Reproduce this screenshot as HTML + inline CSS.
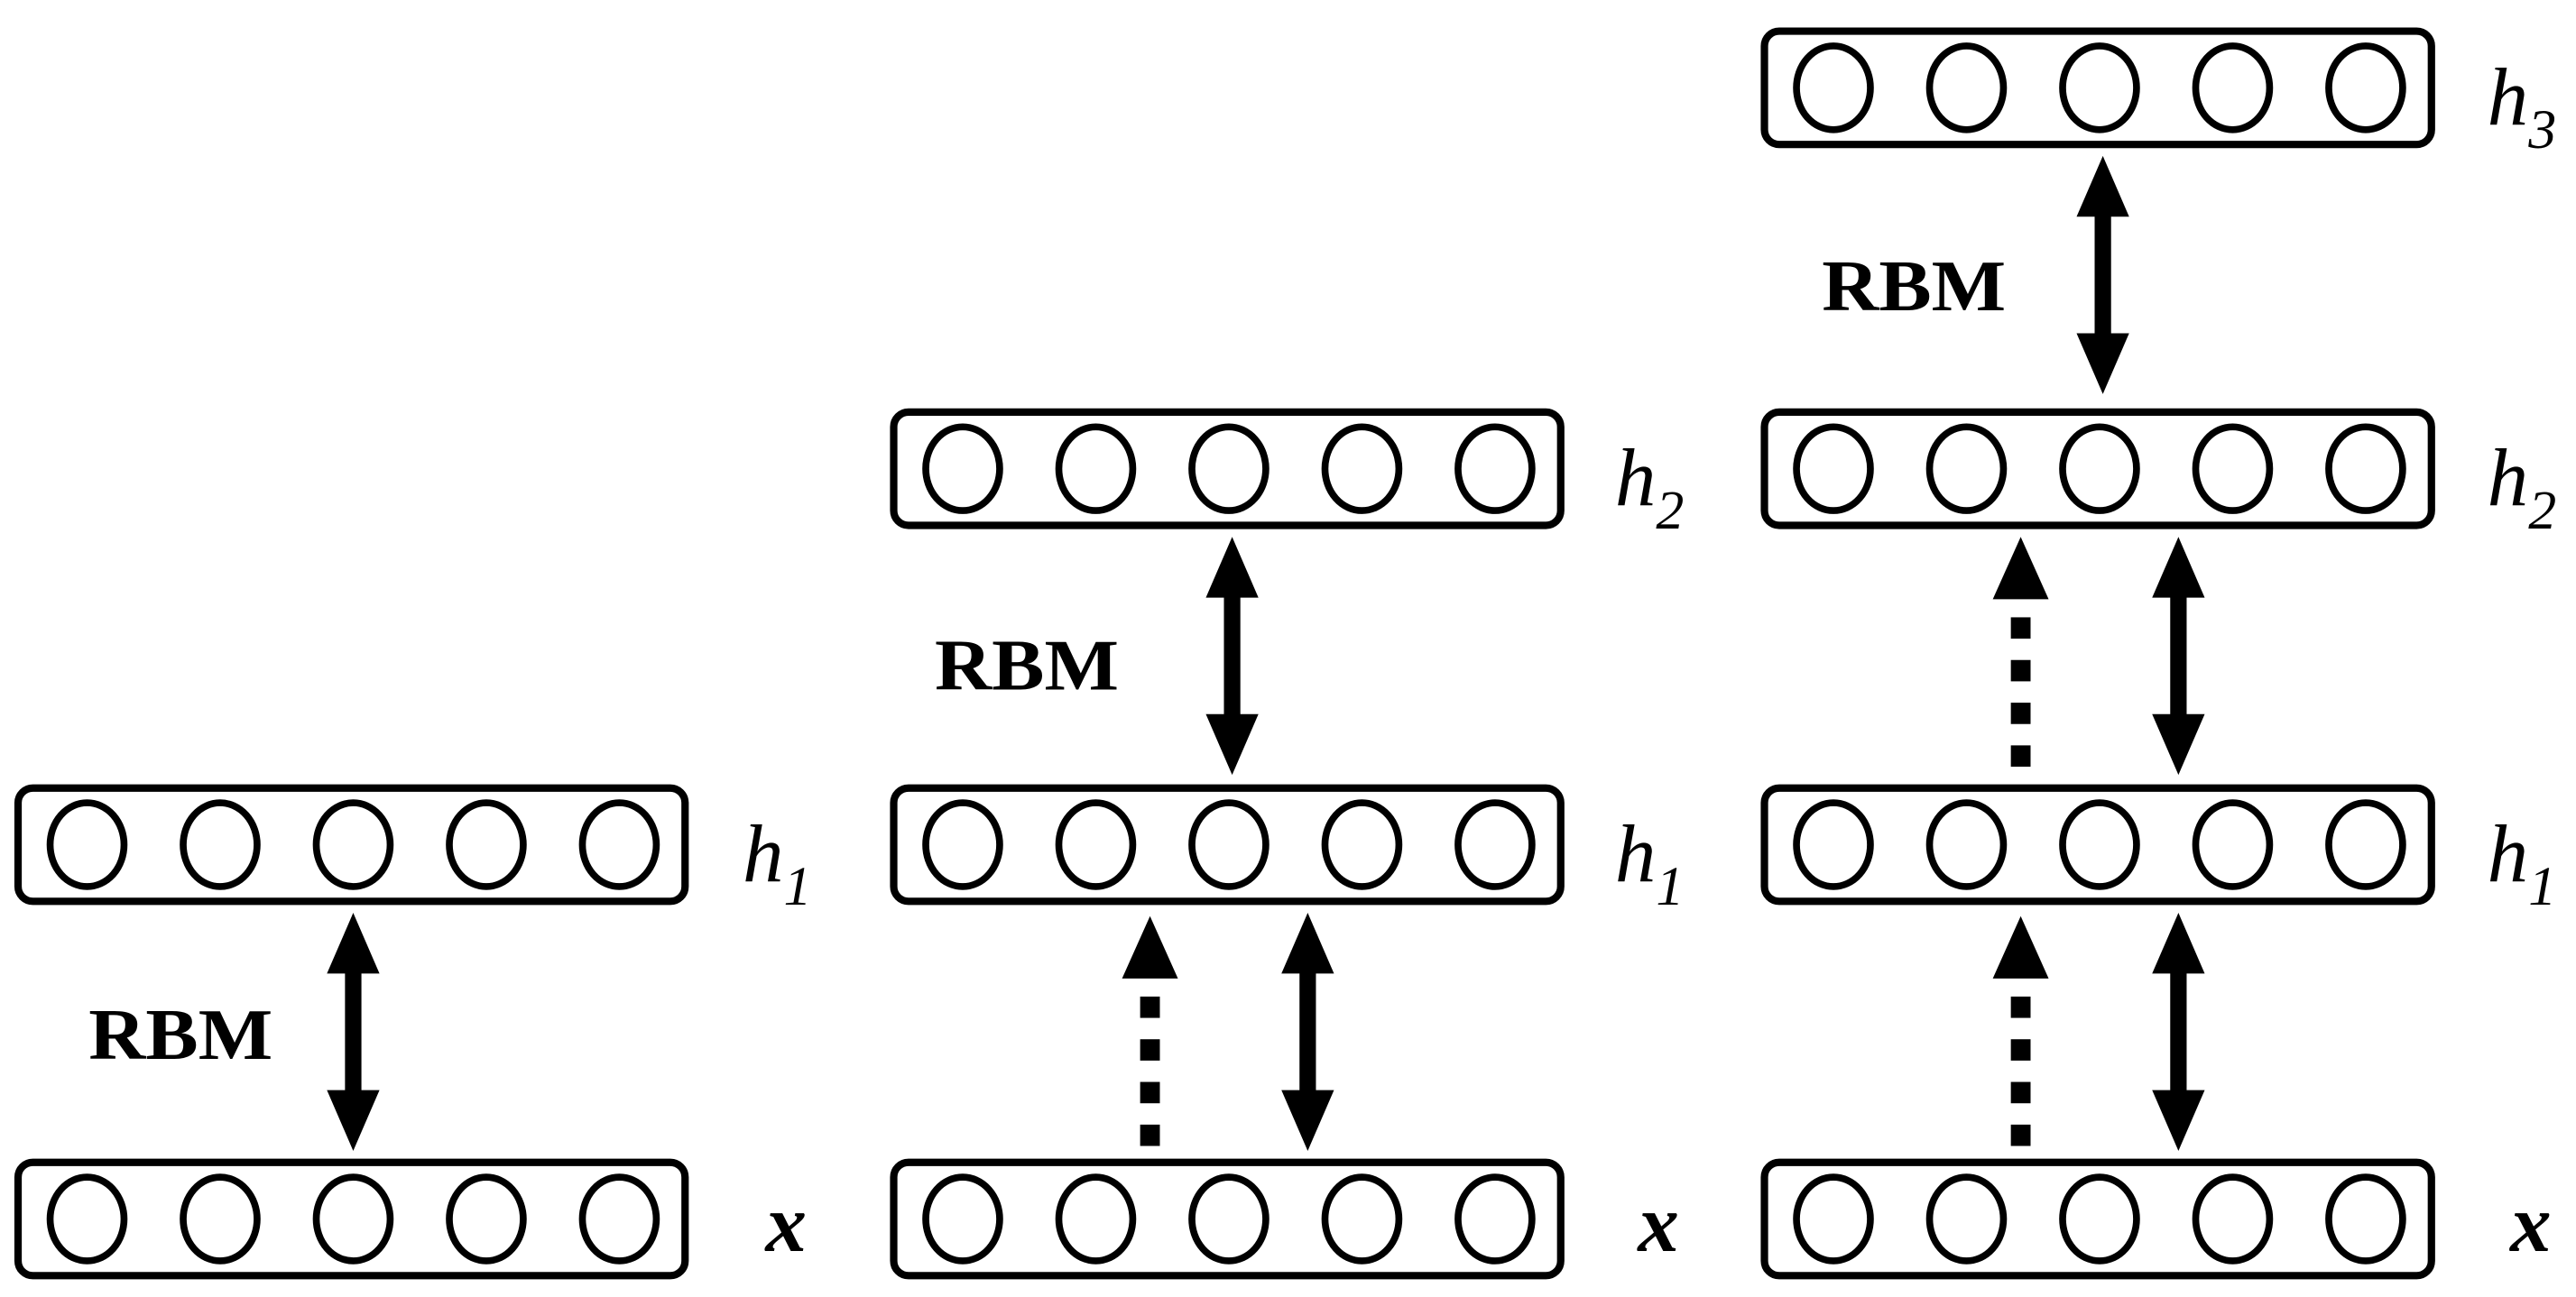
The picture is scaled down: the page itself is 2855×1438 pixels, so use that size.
<!DOCTYPE html>
<html><head><meta charset="utf-8"><style>
html,body{margin:0;padding:0;background:#fff;}
svg{display:block;}
</style></head><body>
<svg width="2855" height="1438" viewBox="0 0 1568 790" preserveAspectRatio="none" xmlns="http://www.w3.org/2000/svg" font-family="'Liberation Serif','Times New Roman',serif">
<defs>
<g id="layer">
  <rect x="2" y="2" width="406" height="69" rx="9" ry="9" fill="#fff" stroke="#000" stroke-width="4.5"/>
  <g fill="none" stroke="#000" stroke-width="4.2">
    <ellipse cx="44" cy="36.5" rx="22.5" ry="25.5"/>
    <ellipse cx="125" cy="36.5" rx="22.5" ry="25.5"/>
    <ellipse cx="206" cy="36.5" rx="22.5" ry="25.5"/>
    <ellipse cx="287" cy="36.5" rx="22.5" ry="25.5"/>
    <ellipse cx="368" cy="36.5" rx="22.5" ry="25.5"/>
  </g>
</g>
<g id="dbl">
  <polygon points="0,0 16,37 5,37 5,108 16,108 0,145 -16,108 -5,108 -5,37 -16,37" fill="#000"/>
</g>
<g id="dot">
  <polygon points="0,0 17,38 -17,38" fill="#000"/>
  <rect x="-6" y="49" width="12" height="13" fill="#000"/>
  <rect x="-6" y="75" width="12" height="13" fill="#000"/>
  <rect x="-6" y="101" width="12" height="13" fill="#000"/>
  <rect x="-6" y="127" width="12" height="13" fill="#000"/>
</g>
</defs>

<g font-family="'Liberation Serif','Times New Roman',serif">
<!-- Column 1 -->
<use href="#layer" x="9" y="478"/>
<use href="#layer" x="9" y="706"/>
<use href="#dbl" x="215" y="556"/>
<text x="54" y="645" font-size="44" font-weight="bold" textLength="112" lengthAdjust="spacingAndGlyphs">RBM</text>
<text x="452" y="537" font-size="50" font-style="italic">h<tspan font-size="34" dy="14">1</tspan></text>
<text x="466" y="762" font-size="50" font-style="italic" font-weight="bold">x</text>

<!-- Column 2 -->
<use href="#layer" x="542" y="249"/>
<use href="#layer" x="542" y="478"/>
<use href="#layer" x="542" y="706"/>
<use href="#dbl" x="750" y="327"/>
<use href="#dot" x="700" y="558"/>
<use href="#dbl" x="796" y="556"/>
<text x="569" y="420" font-size="44" font-weight="bold" textLength="112" lengthAdjust="spacingAndGlyphs">RBM</text>
<text x="983" y="308" font-size="50" font-style="italic">h<tspan font-size="34" dy="14">2</tspan></text>
<text x="983" y="537" font-size="50" font-style="italic">h<tspan font-size="34" dy="14">1</tspan></text>
<text x="997" y="762" font-size="50" font-style="italic" font-weight="bold">x</text>

<!-- Column 3 -->
<use href="#layer" x="1072" y="17"/>
<use href="#layer" x="1072" y="249"/>
<use href="#layer" x="1072" y="478"/>
<use href="#layer" x="1072" y="706"/>
<use href="#dbl" x="1280" y="95"/>
<use href="#dot" x="1230" y="327"/>
<use href="#dbl" x="1326" y="327"/>
<use href="#dot" x="1230" y="558"/>
<use href="#dbl" x="1326" y="556"/>
<text x="1109" y="189" font-size="44" font-weight="bold" textLength="112" lengthAdjust="spacingAndGlyphs">RBM</text>
<text x="1514" y="76" font-size="50" font-style="italic">h<tspan font-size="34" dy="14">3</tspan></text>
<text x="1514" y="308" font-size="50" font-style="italic">h<tspan font-size="34" dy="14">2</tspan></text>
<text x="1514" y="537" font-size="50" font-style="italic">h<tspan font-size="34" dy="14">1</tspan></text>
<text x="1528" y="762" font-size="50" font-style="italic" font-weight="bold">x</text>
</g>
</svg>
</body></html>
